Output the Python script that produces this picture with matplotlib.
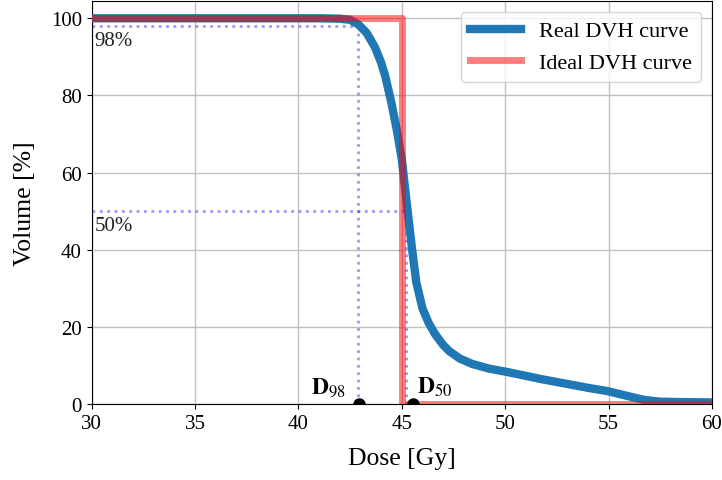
import matplotlib.pyplot as plt

plt.rcParams['font.family'] = ['Liberation Serif', 'DejaVu Serif']
plt.rcParams['mathtext.fontset'] = 'stix'

# real DVH curve
dose = [30, 35, 40, 41, 42, 42.5, 42.9, 43.3, 43.7, 44.0, 44.2, 44.5, 44.76, 45.0,
        45.24, 45.5, 45.7, 46.0, 46.3, 46.6, 47.0, 47.3, 47.8, 48.4, 49.2, 50.1,
        51.0, 51.7, 52.5, 53.3, 54.1, 54.9, 55.6, 56.2, 56.8, 57.5, 58.5, 60]
volume = [100, 100, 100, 100, 99.9, 99.6, 98.4, 96.2, 92.5, 88.5, 85, 78, 71, 63.5,
          52, 40, 31.6, 24.8, 21, 18.2, 15.3, 13.7, 11.8, 10.4, 9.2, 8.3,
          7.3, 6.5, 5.7, 4.9, 4.1, 3.4, 2.5, 1.7, 1.0, 0.6, 0.5, 0.4]

ideal_dose = [30, 45, 45, 60]
ideal_volume = [100, 100, 0, 0]

d98, d50 = 42.9, 45.2
marker_x = [42.92, 45.55]

fig = plt.figure(figsize=(7.22, 4.81), dpi=100)
ax = fig.add_axes([0.127, 0.158, 0.859, 0.838])

ax.plot(dose, volume, color='#1f77b4', lw=6, label='Real DVH curve', zorder=3)
ax.plot(ideal_dose, ideal_volume, color='red', alpha=0.5, lw=5, label='Ideal DVH curve', zorder=4)

# D98 and D50 guide lines
guide = dict(ls=':', color='blue', alpha=0.4, lw=2, zorder=2)
ax.plot([30, d98], [98, 98], **guide)
ax.plot([d98, d98], [0, 98], **guide)
ax.plot([30, d50], [50, 50], **guide)
ax.plot([d50, d50], [0, 50], **guide)

ax.plot(marker_x, [0, 0], 'o', color='black', ms=8, zorder=5)

ax.text(30.15, 96.8, '98%', fontsize=15, color='#222222', va='top')
ax.text(30.15, 48.8, '50%', fontsize=15, color='#222222', va='top')
ax.text(40.6, 3.0, r'$\mathbf{D}_{98}$', fontsize=17)
ax.text(45.75, 3.0, r'$\mathbf{D}_{50}$', fontsize=17)

ax.set_xlim(30, 60)
ax.set_ylim(0, 104.5)
ax.grid(True, color='#c0c0c0', lw=1)
ax.set_axisbelow(True)
ax.tick_params(labelsize=15)
ax.set_xlabel('Dose [Gy]', fontsize=18.5, labelpad=10)
ax.set_ylabel('Volume [%]', fontsize=18.5, labelpad=11)
ax.legend(loc='upper right', fontsize=16, handlelength=2.3)

fig.savefig('out.png', dpi=100)
